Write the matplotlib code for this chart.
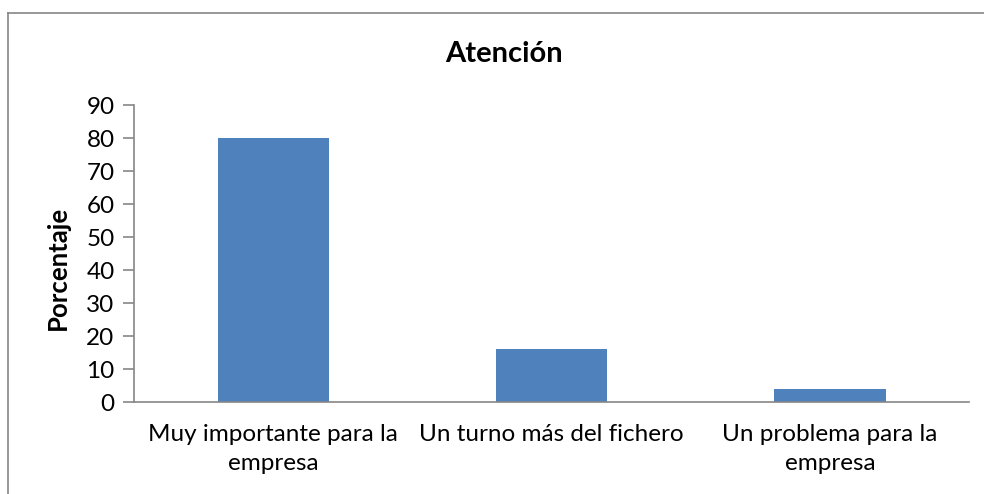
import matplotlib.pyplot as plt
from matplotlib.lines import Line2D

categories = ["Muy importante para la\nempresa", "Un turno más del fichero", "Un problema para la\nempresa"]
porcentaje = [80, 16, 4]
yticks = list(range(0, 91, 10))

plt.rcParams['font.family'] = ['Lato', 'DejaVu Sans']
gris = "#868686"

fig = plt.figure(figsize=(9.84, 4.94), dpi=100)
ax = fig.add_axes([134 / 984, 1 - 402 / 494, 835 / 984, 297 / 494])

ax.bar(range(len(categories)), porcentaje, width=0.4, color="#4F81BD")
ax.set_xlim(-0.5, len(categories) - 0.5)
ax.set_ylim(0, 90)
ax.set_yticks(yticks)
ax.set_xticks(range(len(categories)))
ax.set_xticklabels(categories, fontsize=17.5, linespacing=1.43)
ax.tick_params(axis='y', labelsize=17.5, length=8, color=gris, width=1.2, pad=6)
ax.tick_params(axis='x', length=0, pad=16)

for s in ["top", "right"]:
    ax.spines[s].set_visible(False)
for s in ["left", "bottom"]:
    ax.spines[s].set_color(gris)
    ax.spines[s].set_linewidth(1.2)

ax.set_ylabel("Porcentaje", fontsize=18.5, fontweight="bold")
ax.yaxis.set_label_coords(-0.077, 0.45)
fig.text(0.512, 1 - 54 / 494, "Atención", ha="center", va="center", fontsize=21, fontweight="bold")

# chart frame (only left and top edges show)
fig.add_artist(Line2D([8 / 984, 8 / 984], [0, 1 - 13 / 494], transform=fig.transFigure, color=gris, lw=1.2))
fig.add_artist(Line2D([8 / 984, 1], [1 - 13 / 494, 1 - 13 / 494], transform=fig.transFigure, color=gris, lw=1.2))

fig.savefig("out.png", dpi=100)
